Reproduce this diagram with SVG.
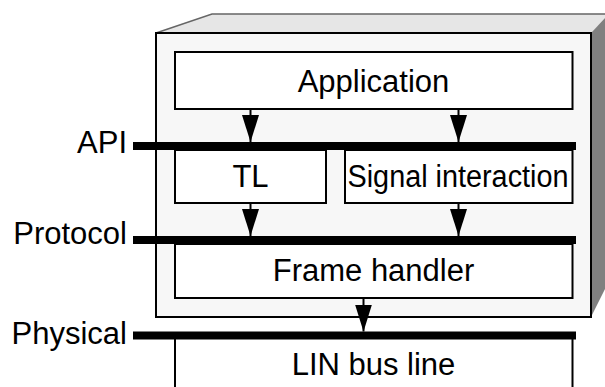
<svg xmlns="http://www.w3.org/2000/svg" width="605" height="387" viewBox="0 0 605 387">
<defs>
<style>
.box{fill:#ffffff;stroke:#000;stroke-width:2}
.bar{fill:#000}
.lbl{font-family:"Liberation Sans",Arial,Helvetica,sans-serif;font-size:31px;fill:#000}
.mid{text-anchor:middle}
.end{text-anchor:end}
.conn{stroke:#000;stroke-width:2;fill:none;marker-end:url(#arr)}
</style>
<marker id="arr" markerUnits="userSpaceOnUse" viewBox="0 0 27 17" markerWidth="27" markerHeight="17" refX="27" refY="8.5" orient="auto">
<path d="M0,0 L27,8.5 L0,17 Z" fill="#000"/>
</marker>
</defs>
<rect width="605" height="387" fill="#fff"/>
<g id="ecu-box">
<polygon points="156,33 212,14 605,14 605,18 591,33" fill="#e6e6e6"/>
<polyline points="156,33 212,14 605,14" fill="none" stroke="#666" stroke-width="1.5"/>
<polygon points="591,33 605,18 605,289 591,317" fill="#808080"/>
<rect x="156" y="33" width="435" height="284" fill="#f7f7f7" stroke="#000" stroke-width="2"/>
</g>
<g id="application">
<rect class="box" x="175" y="52" width="397.5" height="57"/>
<text class="lbl mid" x="373.5" y="92">Application</text>
</g>
<g id="tl">
<rect class="box" x="175" y="150" width="151" height="53"/>
<text class="lbl mid" x="250.5" y="187">TL</text>
</g>
<g id="signal-interaction">
<rect class="box" x="345" y="150" width="227.5" height="53"/>
<text class="lbl mid" x="458" y="187" textLength="221" lengthAdjust="spacingAndGlyphs">Signal interaction</text>
</g>
<g id="frame-handler">
<rect class="box" x="175" y="244" width="397.5" height="54"/>
<text class="lbl mid" x="373.5" y="281">Frame handler</text>
</g>
<g id="lin-bus-line">
<path d="M175,339 V388 M572.5,339 V388" fill="none" stroke="#000" stroke-width="2"/>
<text class="lbl mid" x="373.5" y="375">LIN bus line</text>
</g>
<g id="connectors">
<line class="conn" x1="250.5" y1="109" x2="250.5" y2="142"/>
<line class="conn" x1="458.5" y1="109" x2="458.5" y2="142"/>
<line class="conn" x1="250.5" y1="203" x2="250.5" y2="236"/>
<line class="conn" x1="458.5" y1="203" x2="458.5" y2="236"/>
<line class="conn" x1="363.5" y1="298" x2="363.5" y2="331.5"/>
</g>
<g id="api">
<rect class="bar" x="133" y="142" width="443" height="8"/>
<text class="lbl end" x="127" y="152.5">API</text>
</g>
<g id="protocol">
<rect class="bar" x="133" y="236" width="443" height="8"/>
<text class="lbl end" x="127" y="244">Protocol</text>
</g>
<g id="physical">
<rect class="bar" x="133" y="331.5" width="443" height="8"/>
<text class="lbl end" x="127" y="344">Physical</text>
</g>
</svg>
